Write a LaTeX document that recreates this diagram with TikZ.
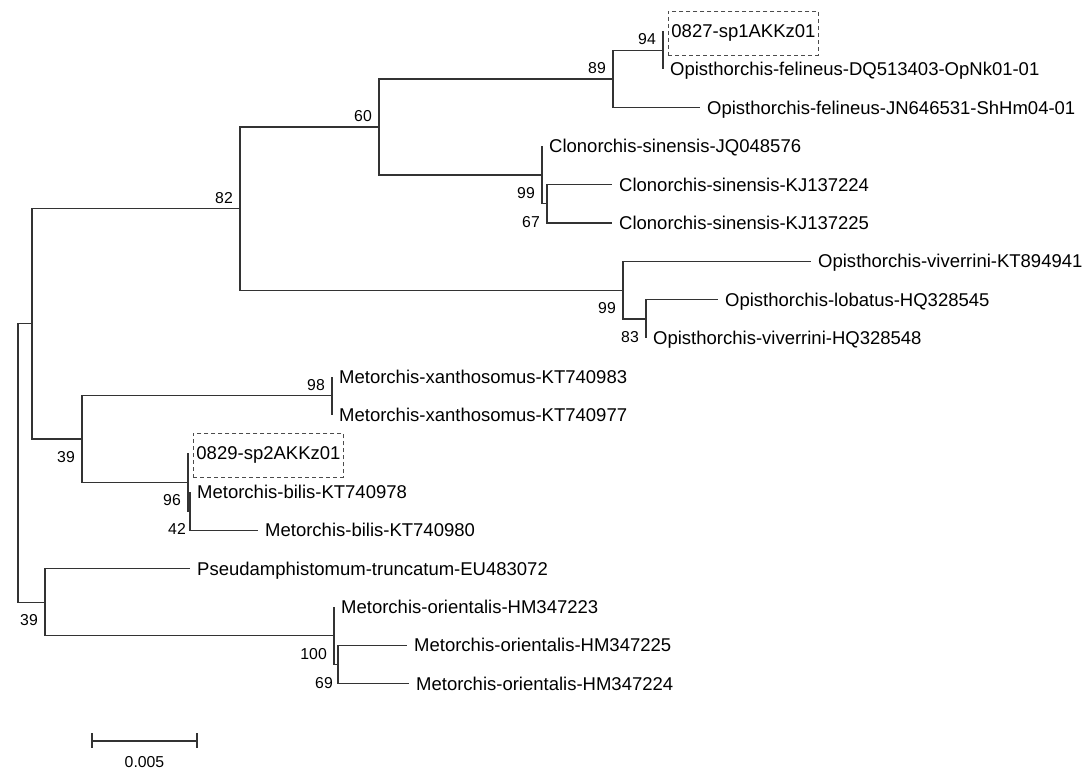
\documentclass[tikz,border=0pt]{standalone}
\usepackage{fontspec}
\setmainfont{Liberation Sans}
\begin{document}
\begin{tikzpicture}[x=1pt,y=-1pt,
	branch/.style={line width=1.3pt,draw=black!80},
	leaf/.style={anchor=base west,inner sep=0pt,xshift=7pt,yshift=-6.5pt},
	sample/.style={anchor=base west,draw=black!70,dash pattern=on 4pt off 3pt,line width=0.9pt,inner xsep=3pt,inner ysep=0pt,minimum height=44pt,xshift=5pt,yshift=-6.5pt},
	bsup/.style={anchor=east,inner sep=0pt,xshift=-7pt,yshift=11pt},
	bsdown/.style={anchor=east,inner sep=0pt,xshift=-7pt,yshift=-18pt}]
			\newcommand{\myfontleaf}[1]{
				\fontsize{18.5}{20}\selectfont{#1}
			}\newcommand{\myfontboot}[1]{
				\fontsize{15.8}{17}\selectfont{#1}
			}%Page frame
			\useasboundingbox (0,0) rectangle (1091,776);
			%Leaf tips, one row every 38.4
			\foreach \name/\x [count=\i from 0] in {O827/663,DQ/663,JN/700,JQ/542,KJa/612,KJb/612,KT/811,Lob/718,HQ/646,Xa/332,Xb/332,O829/188,Ba/190,Bb/258,Ps/190,Ma/334,Mb/407,Mc/409} {
				\coordinate (t\name) at ({\x},{31+38.4*\i});
			}
			%Inner nodes
			\coordinate (n94) at (663,50.2);
			\coordinate (n89) at (613,79);
			\coordinate (n67) at (547,203.8);
			\coordinate (n99c) at (542,175);
			\coordinate (n60) at (379,127);
			\coordinate (n83) at (646,319);
			\coordinate (n99v) at (623,290.2);
			\coordinate (n82) at (240,208.6);
			\coordinate (n98) at (332,395.8);
			\coordinate (n42) at (190,511);
			\coordinate (n96) at (188,482.2);
			\coordinate (n39a) at (82,439);
			\coordinate (nA) at (32,323.8);
			\coordinate (n69) at (338,664.6);
			\coordinate (n100) at (334,635.8);
			\coordinate (n39b) at (45,602.2);
			\coordinate (root) at (18,463);
			%Branches
			\foreach \a/\b in {root/nA,root/n39b,nA/n82,nA/n39a,n82/n60,n82/n99v,n60/n89,n60/n99c,n89/n94,n89/tJN,n94/tO827,n94/tDQ,n99c/tJQ,n99c/n67,n67/tKJa,n67/tKJb,n99v/tKT,n99v/n83,n83/tLob,n83/tHQ,n39a/n98,n39a/n96,n98/tXa,n98/tXb,n96/tO829,n96/n42,n42/tBa,n42/tBb,n39b/tPs,n39b/n100,n100/tMa,n100/n69,n69/tMb,n69/tMc} {
				\draw[branch] (\a) |- (\b);
			}
			%Taxa
			\node [sample] (lO827) at (tO827) {\myfontleaf{0827-sp1AKKz01}};
			\node [leaf] (lDQ) at (tDQ) {\myfontleaf{Opisthorchis-felineus-DQ513403-OpNk01-01}};
			\node [leaf] (lJN) at (tJN) {\myfontleaf{Opisthorchis-felineus-JN646531-ShHm04-01}};
			\node [leaf] (lJQ) at (tJQ) {\myfontleaf{Clonorchis-sinensis-JQ048576}};
			\node [leaf] (lKJa) at (tKJa) {\myfontleaf{Clonorchis-sinensis-KJ137224}};
			\node [leaf] (lKJb) at (tKJb) {\myfontleaf{Clonorchis-sinensis-KJ137225}};
			\node [leaf] (lKT) at (tKT) {\myfontleaf{Opisthorchis-viverrini-KT894941}};
			\node [leaf] (lLob) at (tLob) {\myfontleaf{Opisthorchis-lobatus-HQ328545}};
			\node [leaf] (lHQ) at (tHQ) {\myfontleaf{Opisthorchis-viverrini-HQ328548}};
			\node [leaf] (lXa) at (tXa) {\myfontleaf{Metorchis-xanthosomus-KT740983}};
			\node [leaf] (lXb) at (tXb) {\myfontleaf{Metorchis-xanthosomus-KT740977}};
			\node [sample] (lO829) at (tO829) {\myfontleaf{0829-sp2AKKz01}};
			\node [leaf] (lBa) at (tBa) {\myfontleaf{Metorchis-bilis-KT740978}};
			\node [leaf] (lBb) at (tBb) {\myfontleaf{Metorchis-bilis-KT740980}};
			\node [leaf] (lPs) at (tPs) {\myfontleaf{Pseudamphistomum-truncatum-EU483072}};
			\node [leaf] (lMa) at (tMa) {\myfontleaf{Metorchis-orientalis-HM347223}};
			\node [leaf] (lMb) at (tMb) {\myfontleaf{Metorchis-orientalis-HM347225}};
			\node [leaf] (lMc) at (tMc) {\myfontleaf{Metorchis-orientalis-HM347224}};
			%Bootstrap values
			\node [bsup] (b94) at (n94) {\myfontboot{94}};
			\node [bsup] (b89) at (n89) {\myfontboot{89}};
			\node [bsup] (b60) at (n60) {\myfontboot{60}};
			\node [bsup] (b82) at (n82) {\myfontboot{82}};
			\node [bsdown] (b99c) at (n99c) {\myfontboot{99}};
			\node [bsdown] (b67) at (n67) {\myfontboot{67}};
			\node [bsdown] (b99v) at (n99v) {\myfontboot{99}};
			\node [bsdown] (b83) at (n83) {\myfontboot{83}};
			\node [bsup] (b98) at (n98) {\myfontboot{98}};
			\node [bsdown] (b39a) at (n39a) {\myfontboot{39}};
			\node [bsdown] (b96) at (n96) {\myfontboot{96}};
			\node [bsdown,xshift=3pt] (b42) at (n42) {\myfontboot{42}};
			\node [bsdown] (b39b) at (n39b) {\myfontboot{39}};
			\node [bsdown] (b100) at (n100) {\myfontboot{100}};
			\node [bsdown,xshift=2pt] (b69) at (n69) {\myfontboot{69}};
			%Scale bar
			\coordinate (barL) at (92,741);
			\coordinate (barR) at (197,741);
			\draw[branch] (barL) -- (barR);
			\draw[branch] (barL) ++(0,-8) -- ++(0,15);
			\draw[branch] (barR) ++(0,-8) -- ++(0,15);
			\node [] (scale) at (144.5,762) {\myfontboot{0.005}};
\end{tikzpicture}
\end{document}
